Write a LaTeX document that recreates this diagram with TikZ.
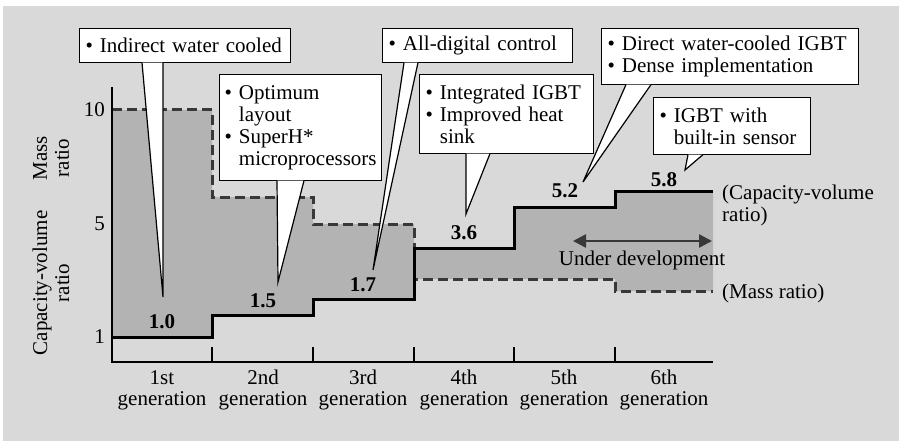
\documentclass[tikz,border=0pt]{standalone}
\usepackage{fontspec}
\setmainfont{Liberation Serif}
\usepackage{tikz}
\usetikzlibrary{arrows.meta}

\definecolor{panel}{HTML}{D9D9D9}
\definecolor{band}{HTML}{B3B3B3}
\definecolor{massline}{HTML}{383838}
\newcommand{\bulind}{\phantom{\textbullet\ }}

\tikzset{
  callout/.style={draw, fill=white, line width=1.2pt, anchor=north west,
    align=left, inner xsep=6pt, inner ysep=0pt},
  pointer/.style={draw, fill=white, line width=1.2pt},
  massstep/.style={draw=massline, line width=3pt, dash pattern=on 10pt off 5pt},
  capstep/.style={draw=black, line width=3pt},
  ratiolabel/.style={font=\fontsize{21}{22}\selectfont\bfseries},
  genlabel/.style={align=center, font=\fontsize{21}{21}\selectfont},
  devarrow/.style={{Triangle[length=13pt,width=13pt]}-{Triangle[length=13pt,width=13pt]},
    draw=massline, line width=2.5pt}
}

\begin{document}
\begin{tikzpicture}[x=1pt, y=-1pt, inner sep=0pt, font=\fontsize{21}{22}\selectfont]
      \useasboundingbox (0,0) rectangle (899,441);
      \fill[panel] (3,6) rectangle (899,441);
      % band between the two step curves
      \fill[band] (112,337) -- (212,337) -- (212,315) -- (313,315) -- (313,299) -- (414,299)
        -- (414,248) -- (514,248) -- (514,207) -- (615,207) -- (615,191) -- (713,191)
        -- (713,291) -- (615,291) -- (615,279) -- (414,279) -- (414,224) -- (313,224)
        -- (313,197) -- (212,197) -- (212,110) -- (112,110) -- cycle;
      \draw[massstep] (112,110) -- (212,110) -- (212,197) -- (313,197) -- (313,224) -- (414,224)
        -- (414,279) -- (615,279) -- (615,291) -- (713,291);
      \draw[capstep] (112,337) -- (212,337) -- (212,315) -- (313,315) -- (313,299) -- (414,299)
        -- (414,248) -- (514,248) -- (514,207) -- (615,207) -- (615,191) -- (713,191);
      % axes
      \draw[line width=2pt] (112,87) -- (112,362) -- (713,362);
      \draw[line width=1.1pt] (212,362) -- (212,347);
      \draw[line width=1.1pt] (313,362) -- (313,347);
      \draw[line width=1.1pt] (414,362) -- (414,347);
      \draw[line width=1.1pt] (514,362) -- (514,347);
      \draw[line width=1.1pt] (615,362) -- (615,347);
      \node[anchor=east] (y10) at (105,110) {10};
      \node[anchor=east] (y5) at (105,224) {5};
      \node[anchor=east] (y1) at (105,337) {1};
      \node[rotate=90, align=center] (masstitle) at (51,158) {Mass\\ratio};
      \node[rotate=90, align=center] (captitle) at (51,283) {Capacity-volume\\ratio};
      \node[genlabel] (gen1) at (162,390) {1st\\generation};
      \node[genlabel] (gen2) at (263,390) {2nd\\generation};
      \node[genlabel] (gen3) at (363,390) {3rd\\generation};
      \node[genlabel] (gen4) at (464,390) {4th\\generation};
      \node[genlabel] (gen5) at (564,390) {5th\\generation};
      \node[genlabel] (gen6) at (664,390) {6th\\generation};
      % ratio values
      \node[ratiolabel] (r1) at (162,322) {1.0};
      \node[ratiolabel] (r2) at (263,301) {1.5};
      \node[ratiolabel] (r3) at (363,285) {1.7};
      \node[ratiolabel] (r4) at (464,233) {3.6};
      \node[ratiolabel] (r5) at (565,191) {5.2};
      \node[ratiolabel] (r6) at (664,180) {5.8};
      \node[anchor=west, align=left] (capkey) at (722,205) {(Capacity-volume\\ratio)};
      \node[anchor=west] (masskey) at (722,293) {(Mass ratio)};
      % under development
      \coordinate (devl) at (573,241);
      \coordinate (devr) at (712,241);
      \draw[devarrow] (devl) -- (devr);
      \node (devtext) at (642,260) {Under development};
      % callouts
      \node[callout, text width=199pt, minimum height=34pt] (cool) at (79,28)
        {\textbullet\ Indirect water cooled};
      \coordinate (tcool) at (163,297);
      \draw[pointer] ([xshift=63pt,yshift=0.6pt]cool.south west) -- (tcool)
        -- ([xshift=84pt,yshift=0.6pt]cool.south west);
      \node[callout, inner xsep=5pt, text width=152pt, minimum height=106pt] (layout) at (219,74)
        {\textbullet\ Optimum\\\bulind layout\\\textbullet\ SuperH*\\\bulind microprocessors};
      \coordinate (tlayout) at (278,282);
      \draw[pointer] ([xshift=58pt,yshift=0.6pt]layout.south west) -- (tlayout)
        -- ([xshift=85pt,yshift=0.6pt]layout.south west);
      \node[callout, text width=178pt, minimum height=34pt] (digital) at (382,28)
        {\textbullet\ All-digital control};
      \coordinate (tdigital) at (373,270);
      \draw[pointer] ([xshift=22pt,yshift=0.6pt]digital.south west) -- (tdigital)
        -- ([xshift=36pt,yshift=0.6pt]digital.south west);
      \node[callout, text width=162pt, minimum height=79pt] (igbt) at (419,74)
        {\textbullet\ Integrated IGBT\\\textbullet\ Improved heat\\\bulind sink};
      \coordinate (tigbt) at (466,214);
      \draw[pointer] ([xshift=47pt,yshift=0.6pt]igbt.south west) -- (tigbt)
        -- ([xshift=71pt,yshift=0.6pt]igbt.south west);
      \node[callout, text width=245pt, minimum height=56pt] (dense) at (601,28)
        {\textbullet\ Direct water-cooled IGBT\\\textbullet\ Dense implementation};
      \coordinate (tdense) at (583,182);
      \draw[pointer] ([xshift=25pt,yshift=0.6pt]dense.south west) -- (tdense)
        -- ([xshift=50pt,yshift=0.6pt]dense.south west);
      \node[callout, text width=145pt, minimum height=57pt] (sensor) at (653,97)
        {\textbullet\ IGBT with\\\bulind built-in sensor};
      \coordinate (tsensor) at (685,170);
      \draw[pointer] ([xshift=35pt,yshift=0.6pt]sensor.south west) -- (tsensor)
        -- ([xshift=50pt,yshift=0.6pt]sensor.south west);
\end{tikzpicture}
\end{document}
